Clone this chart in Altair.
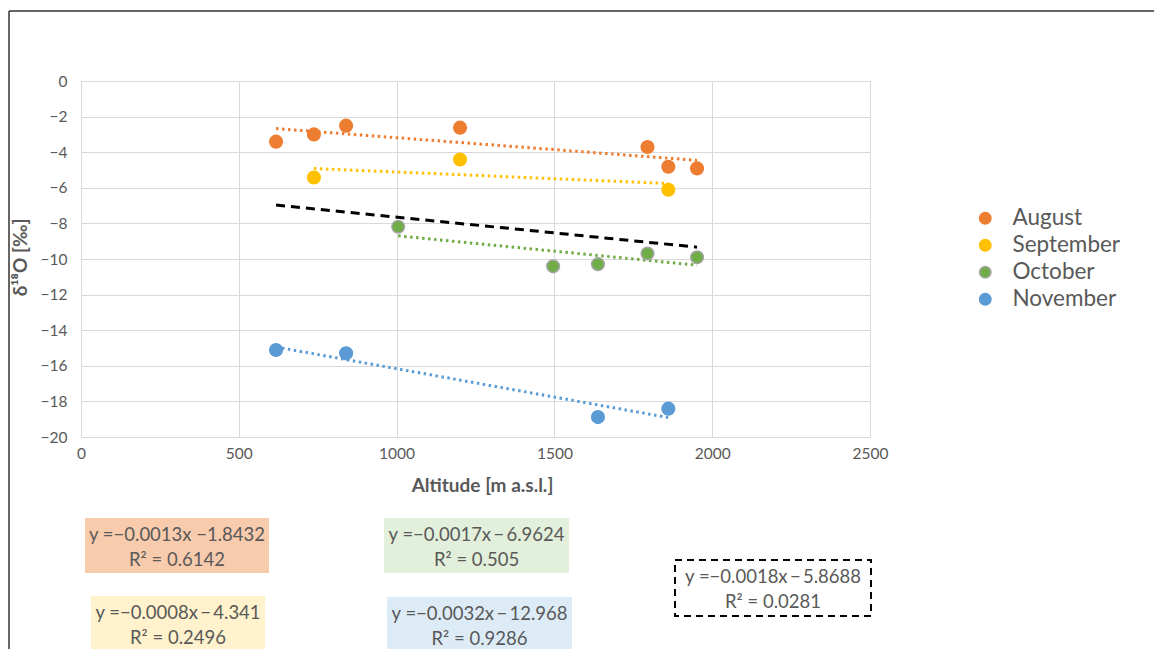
import altair as alt
import pandas as pd

# ---- data ----
months = ["August", "September", "October", "November"]
colors = ["#ED7D31", "#FFC000", "#70AD47", "#5B9BD5"]
strokes = ["#ED7D31", "#FFC000", "#A5A5A5", "#5B9BD5"]

aug_alt = [618, 738, 840, 1201, 1795, 1861, 1952]
aug_d18o = [-3.41, -3.0, -2.51, -2.62, -3.71, -4.82, -4.91]
sep_alt = [738, 1201, 1861]
sep_d18o = [-5.42, -4.41, -6.11]
oct_alt = [1005, 1496, 1638, 1795, 1952]
oct_d18o = [-8.19, -10.41, -10.29, -9.69, -9.9]
nov_alt = [618, 840, 1638, 1861]
nov_d18o = [-15.11, -15.3, -18.88, -18.41]

eq_texts = ["y =−0.0013x −1.8432", "y =−0.0008x\u2009−\u20094.341",
            "y =−0.0017x\u2009−\u20096.9624", "y =−0.0032x\u2009−\u200912.968",
            "y =−0.0018x\u2009−\u20095.8688"]
r2_texts = ["R² = 0.6142", "R² = 0.2496", "R² = 0.505", "R² = 0.9286", "R² = 0.0281"]
box_fills = ["#F8CBAD", "#FFF2CC", "#E2EFDA", "#DDEBF7", "#FFFFFF"]

x_ticks = [0, 500, 1000, 1500, 2000, 2500]
y_ticks = [0, -2, -4, -6, -8, -10, -12, -14, -16, -18, -20]

rows = []
for m, xs, ys in [("August", aug_alt, aug_d18o), ("September", sep_alt, sep_d18o),
                  ("October", oct_alt, oct_d18o), ("November", nov_alt, nov_d18o)]:
    for a, d in zip(xs, ys):
        rows.append({"month": m, "alt": a, "d18o": d})
df = pd.DataFrame(rows)

FONT = "Lato"
TXT = "#595959"

x_axis = alt.Axis(values=x_ticks, format="d", title="Altitude [m a.s.l.]", grid=True,
                  gridColor="#D9D9D9", domain=False, ticks=False, labelOverlap=False,
                  labelFontSize=15.5, labelColor=TXT, labelFont=FONT, labelPadding=9,
                  titleFont=FONT, titleFontSize=19, titleColor=TXT,
                  titleFontWeight="bold", titleBaseline="middle", titleY=48, titleX=401,
                  labelFlush=False)
y_axis = alt.Axis(values=y_ticks, format="d", title="δ¹⁸O [‰]", grid=True,
                  gridColor="#D9D9D9", domain=False, ticks=False, labelOverlap=False,
                  labelFontSize=15.5, labelColor=TXT, labelFont=FONT, labelPadding=14,
                  titleFont=FONT, titleFontSize=19, titleColor=TXT,
                  titleFontWeight="bold", titleAngle=-90, titleBaseline="middle",
                  titleX=-61, titleY=176, labelFlush=False)
x_enc = alt.X("alt:Q", scale=alt.Scale(domain=[0, 2500], nice=False), axis=x_axis)
y_enc = alt.Y("d18o:Q", scale=alt.Scale(domain=[-20, 0], nice=False), axis=y_axis)

base = alt.Chart(df)

trend = base.mark_line(strokeDash=[2.5, 3.5], strokeWidth=3).encode(
    x=x_enc, y=y_enc,
    color=alt.Color("month:N", scale=alt.Scale(domain=months, range=colors), legend=None),
).transform_regression("alt", "d18o", groupby=["month"])

overall = base.mark_line(strokeDash=[9, 6], strokeWidth=3, color="black").encode(
    x=x_enc, y=y_enc
).transform_regression("alt", "d18o")

leg = dict(title=None, orient="none", legendX=893, legendY=126,
           labelFontSize=22.5, labelFont=FONT, labelColor=TXT,
           symbolSize=130, symbolType="circle", rowPadding=4,
           labelOffset=16, symbolStrokeWidth=1.5)

points = base.mark_point(filled=True, size=160, opacity=1, strokeWidth=1.5).encode(
    x=x_enc, y=y_enc,
    fill=alt.Fill("month:N", scale=alt.Scale(domain=months, range=colors),
                  legend=alt.Legend(**leg)),
    stroke=alt.Stroke("month:N", scale=alt.Scale(domain=months, range=strokes),
                      legend=alt.Legend(**leg)),
)

one = pd.DataFrame({"k": [0]})

# annotation boxes (pixel positions relative to plot origin)
box_pos = [(4, 188, 437, 492), (10, 184, 515, 570), (303, 488, 437, 492),
           (306, 491, 516, 572), (594, 790, 479, 535)]
layers = [trend, overall, points]
for i, (x1, x2, y1, y2) in enumerate(box_pos):
    if i == 4:
        rect = alt.Chart(one).mark_rect(fill="white", stroke="black", strokeWidth=2,
                                        strokeDash=[7, 5]).encode(
            x=alt.value(x1), x2=alt.value(x2), y=alt.value(y1), y2=alt.value(y2))
    else:
        rect = alt.Chart(one).mark_rect(fill=box_fills[i]).encode(
            x=alt.value(x1), x2=alt.value(x2), y=alt.value(y1), y2=alt.value(y2))
    cx = (x1 + x2) / 2
    cy = (y1 + y2) / 2
    t1 = alt.Chart(one).mark_text(text=eq_texts[i], font=FONT, fontSize=18.5, color=TXT,
                                  align="center", baseline="middle").encode(
        x=alt.value(cx), y=alt.value(cy - 11))
    t2 = alt.Chart(one).mark_text(text=r2_texts[i], font=FONT, fontSize=18.5, color=TXT,
                                  align="center", baseline="middle").encode(
        x=alt.value(cx), y=alt.value(cy + 14))
    layers += [rect, t1, t2]

frame_top = alt.Chart(one).mark_rule(stroke="#333333", strokeWidth=1.5).encode(
    x=alt.value(-72), x2=alt.value(1073), y=alt.value(-70))
frame_left = alt.Chart(one).mark_rule(stroke="#333333", strokeWidth=1.5).encode(
    x=alt.value(-72), y=alt.value(-70), y2=alt.value(800))
layers += [frame_top, frame_left]

chart = alt.layer(*layers).properties(
    width=789, height=356,
    autosize=alt.AutoSizeParams(type="none"),
    padding={"left": 73, "top": 73, "right": 284, "bottom": 212},
).configure_view(stroke="#D9D9D9", strokeWidth=1).configure_axis(
    labelOverlap=False
).resolve_scale(color="independent")

chart.save("out.html", embed_options={"renderer": "svg", "actions": False})
